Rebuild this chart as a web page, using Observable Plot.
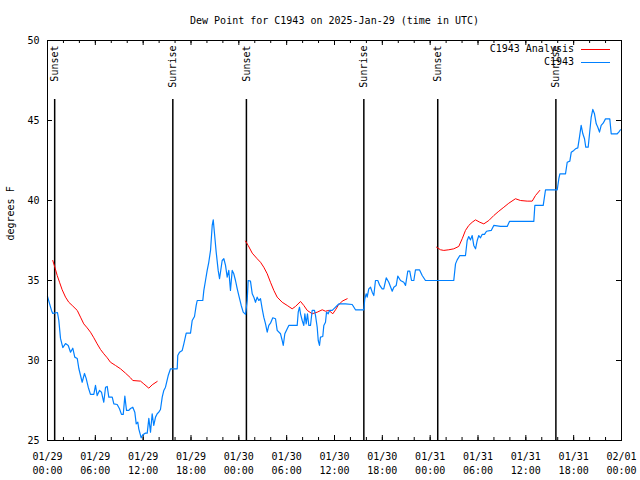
<!DOCTYPE html>
<html><head><meta charset="utf-8">
<script src="https://cdn.jsdelivr.net/npm/d3@7"></script>
<script src="https://cdn.jsdelivr.net/npm/@observablehq/plot@0.6"></script>
<style>
body{margin:0;background:#fff;}
#wrap{position:relative;width:640px;height:480px;}
.legtxt{position:absolute;font:10px "DejaVu Sans Mono",monospace;line-height:12px;color:#000;white-space:pre;text-align:right;}
.legline{position:absolute;height:1px;}
</style></head><body><div id="wrap"></div>
<script>
const title = "Dew Point for C1943 on 2025-Jan-29 (time in UTC)";
const yLabel = "degrees F";
const startTime = "2025-01-29T00:00:00Z";
const endTime = "2025-02-01T00:00:00Z";
const yTicks = [25, 30, 35, 40, 45, 50];
const xMajorTickHours = [0, 6, 12, 18, 24, 30, 36, 42, 48, 54, 60, 66, 72];
const xMinorTickHours = d3.range(0, 73, 2);
const seriesNames = ["C1943 Analysis", "C1943"];
const seriesColors = ["#ff0000", "#0080ff"];

// Observations: [hours since 01/29 00:00 UTC, dew point °F]
const obsSeries = [
[0,34.0],[0.50,33.13],[0.66,32.94],[1.25,33.0],[1.42,32.5],[1.63,31.38],[1.92,30.81],[2.26,31.06],[2.60,30.94],[2.89,30.52],
[3.17,30.77],[3.42,30.21],[3.73,30.13],[3.93,29.5],[4.35,28.64],[4.64,29.19],[4.85,28.88],[5.11,28.33],[5.39,27.88],[5.81,27.88],
[6.02,28.44],[6.23,27.81],[6.52,28.13],[6.77,28.02],[7.06,27.39],[7.28,28.33],[7.49,28.38],[7.69,27.71],[8.12,27.71],[8.32,27.29],
[8.74,27.25],[9.03,26.98],[9.28,26.63],[9.50,26.63],[9.70,27.77],[9.91,26.88],[10.20,26.88],[10.41,27.0],[10.70,27.08],[10.95,26.77],
[11.13,26.04],[11.33,26.14],[11.45,25.73],[11.75,25.17],[11.95,25.36],[12.29,25.46],[12.51,25.46],[12.71,26.38],[12.92,25.52],[13.13,26.67],
[13.33,25.94],[13.55,26.46],[13.76,26.67],[13.96,26.77],[14.17,26.94],[14.39,27.71],[14.59,28.13],[14.80,28.33],[15.14,29.06],[15.43,29.48],
[16.27,29.48],[16.34,30.31],[16.56,30.52],[16.90,30.63],[17.10,31.04],[17.40,31.71],[17.94,31.71],[18.15,32.5],[18.44,32.75],[18.65,33.44],
[18.78,33.75],[19.48,33.75],[19.61,34.38],[19.82,35.0],[20.03,35.63],[20.23,36.14],[20.45,36.88],[20.66,38.44],[20.79,38.79],[20.95,37.92],
[21.16,36.77],[21.41,35.63],[21.58,35.11],[21.70,35.52],[21.91,36.25],[22.12,36.36],[22.33,35.94],[22.54,35.21],[22.74,35.63],[22.95,34.38],
[23.17,35.63],[23.37,35.42],[23.58,35.0],[23.80,34.48],[24.00,34.06],[24.30,33.44],[24.55,33.02],[24.84,32.88],[25.05,33.75],[25.17,35.0],
[25.46,34.96],[25.68,34.17],[25.88,33.96],[26.09,33.64],[26.30,33.96],[26.50,33.75],[26.72,33.86],[26.93,33.23],[27.13,32.71],[27.35,32.29],
[27.56,31.77],[27.76,32.19],[27.97,32.33],[28.26,32.67],[28.60,32.61],[28.81,31.88],[29.23,31.67],[29.44,31.25],[29.57,30.94],[29.77,31.67],
[30.07,31.98],[30.27,32.19],[31.32,32.19],[31.45,33.02],[31.61,33.33],[31.74,32.92],[31.95,32.5],[32.15,32.19],[32.28,32.92],[32.45,32.29],
[32.61,32.92],[32.78,32.19],[32.99,32.19],[33.20,33.13],[33.49,33.13],[33.62,32.81],[33.83,32.08],[33.96,31.25],[34.12,30.94],[34.24,31.46],
[34.53,31.5],[34.66,32.19],[34.87,32.39],[35.00,33.02],[35.21,32.92],[35.37,33.13],[35.71,33.13],[36.04,33.29],[36.34,33.44],[36.54,33.54],
[37.38,33.54],[38.22,33.5],[38.63,33.17],[39.68,33.17],[39.80,33.86],[39.98,34.17],[40.10,33.96],[40.30,34.48],[40.52,34.58],[40.73,34.27],
[40.93,34.06],[41.14,35.0],[41.43,35.0],[41.68,34.69],[41.98,34.48],[42.18,34.48],[42.49,35.17],[42.81,34.89],[43.24,34.33],[43.44,34.58],
[43.74,34.69],[43.94,35.27],[44.28,35.0],[44.69,34.89],[44.91,34.69],[45.19,35.58],[45.44,35.58],[45.66,35.0],[45.95,35.0],[46.16,35.67],
[46.66,35.67],[47.00,35.31],[47.41,35.0],[50.96,35.0],[51.18,36.04],[51.39,36.29],[51.72,36.56],[52.43,36.56],[52.64,37.5],[52.84,37.75],
[53.06,37.54],[53.27,37.81],[53.47,37.19],[53.69,36.98],[53.90,37.5],[54.10,37.81],[54.31,37.67],[54.52,37.88],[54.81,37.88],[55.07,38.08],
[55.66,38.13],[55.98,38.44],[56.82,38.38],[57.66,38.38],[57.95,38.69],[61.00,38.69],[61.13,39.69],[62.18,39.69],[62.47,40.67],[63.94,40.67],
[64.14,41.36],[64.27,41.67],[64.98,41.67],[65.19,42.39],[65.52,42.46],[65.70,43.02],[66.02,43.13],[66.23,43.23],[66.52,43.29],[66.73,43.96],
[66.94,44.69],[67.15,44.17],[67.36,43.86],[67.52,43.33],[67.82,43.33],[67.99,44.17],[68.20,45.21],[68.40,45.69],[68.61,45.42],[68.83,44.79],
[69.03,44.58],[69.24,44.27],[69.45,44.69],[69.70,44.83],[69.99,45.1],[70.53,45.1],[70.71,44.17],[71.46,44.17],[71.66,44.27],[71.87,44.42]
];

// Analysis segments: [hours since 01/29 00:00 UTC, dew point °F]
const analysis1 = [
[0.66,36.25],[0.92,35.83],[1.22,35.31],[1.51,34.89],[1.84,34.42],[2.26,33.96],[2.67,33.64],[3.10,33.44],[3.73,33.13],[4.14,32.71],
[4.55,32.29],[4.98,32.04],[5.39,31.77],[5.81,31.42],[6.23,31.04],[6.65,30.69],[7.06,30.42],[7.49,30.17],[7.90,29.89],[8.53,29.69],
[9.16,29.48],[9.78,29.21],[10.41,28.92],[10.70,28.75],[11.67,28.71],[12.08,28.54],[12.71,28.27],[13.13,28.48],[13.76,28.69]
];
const analysis2 = [
[24.84,37.46],[25.17,37.19],[25.68,36.71],[26.30,36.36],[26.72,36.14],[27.13,35.83],[27.56,35.42],[27.97,34.89],[28.39,34.38],[28.81,33.96],
[29.44,33.64],[30.07,33.44],[30.69,33.23],[31.11,33.38],[31.74,33.69],[32.15,33.44],[32.58,33.13],[33.20,32.92],[33.83,33.02],[34.46,33.17],
[34.87,33.08],[35.29,33.13],[35.79,32.92],[36.13,33.17],[36.46,33.44],[36.97,33.71],[37.59,33.86]
];
const analysis3 = [
[48.80,37.08],[49.30,36.92],[49.71,36.88],[50.34,36.92],[50.96,36.98],[51.59,37.13],[52.02,37.61],[52.43,38.13],[52.84,38.44],[53.27,38.64],
[53.69,38.79],[54.23,38.64],[54.73,38.54],[55.36,38.75],[55.98,39.06],[56.61,39.33],[57.24,39.58],[57.86,39.83],[58.70,40.11],[59.33,40.0],
[60.17,39.96],[60.80,39.96],[61.21,40.31],[61.75,40.63]
];

const sunHours = [0.9, 15.72, 24.95, 39.68, 48.95, 63.77];
const sunLabels = ["Sunset", "Sunrise", "Sunset", "Sunrise", "Sunset", "Sunrise"];

// ---- build tables ----
const t0 = new Date(startTime).getTime();
const toDate = h => new Date(t0 + h * 3600e3);
const obs = obsSeries.map(([h, v]) => ({t: toDate(h), v}));
const ana = [analysis1, analysis2, analysis3].flatMap((seg, i) => seg.map(([h, v]) => ({t: toDate(h), v, seg: i})));
const sun = sunHours.map((h, i) => ({t: toDate(h), label: sunLabels[i]}));
const majorTicks = xMajorTickHours.map(toDate);
const minorTicks = xMinorTickHours.map(toDate);

const W = 640, H = 480, mL = 47, mR = 19, mT = 40, mB = 40;
const pw = W - mL - mR, ph = H - mT - mB;
const FONT = "DejaVu Sans Mono";

const chart = Plot.plot({
  width: W, height: H,
  marginLeft: mL, marginRight: mR, marginTop: mT, marginBottom: mB,
  style: {fontFamily: FONT, fontSize: "10px", background: "#fff", color: "#000"},
  x: {type: "utc", domain: [new Date(startTime), new Date(endTime)]},
  y: {domain: [25, 50]},
  marks: [
    Plot.axisX({ticks: majorTicks, tickSize: 0, tickPadding: 10, lineHeight: 1.35,
      tickFormat: d3.utcFormat("%m/%d\n%H:%M"), label: null, fontSize: 10}),
    Plot.axisY({ticks: yTicks, tickSize: 0, tickPadding: 8, label: null, fontSize: 10}),
    // ticks pointing inward (bottom/top/left/right)
    Plot.tickX(minorTicks, {x: d => d, insetTop: ph - 3, stroke: "#000"}),
    Plot.tickX(minorTicks, {x: d => d, insetBottom: ph - 3, stroke: "#000"}),
    Plot.tickX(majorTicks, {x: d => d, insetTop: ph - 5, stroke: "#000"}),
    Plot.tickX(majorTicks, {x: d => d, insetBottom: ph - 5, stroke: "#000"}),
    Plot.tickY(yTicks, {y: d => d, insetRight: pw - 5, stroke: "#000"}),
    Plot.tickY(yTicks, {y: d => d, insetLeft: pw - 5, stroke: "#000"}),
    // sunrise / sunset
    Plot.ruleX(sun, {x: "t", insetTop: 59, stroke: "#000", strokeWidth: 1.5}),
    Plot.text(sun, {x: "t", text: "label", frameAnchor: "top", rotate: -90, textAnchor: "end",
      lineAnchor: "middle", dy: 5, fontSize: 10, fill: "#000"}),
    // series
    Plot.line(ana, {x: "t", y: "v", z: "seg", stroke: seriesColors[0], strokeWidth: 1}),
    Plot.line(obs, {x: "t", y: "v", stroke: seriesColors[1], strokeWidth: 1.2}),
    Plot.frame({stroke: "#000"}),
    // title and y label
    Plot.text([title], {frameAnchor: "top", dy: -20, lineAnchor: "middle", fontSize: 10, fill: "#000"}),
    Plot.text([yLabel], {frameAnchor: "left", dx: -37, rotate: -90, lineAnchor: "middle", fontSize: 10, fill: "#000"})
  ]
});
const wrap = document.getElementById("wrap");
wrap.appendChild(chart);

// legend (gnuplot key, top-right inside)
const legendRows = [49, 62];
seriesNames.forEach((name, i) => {
  const t = document.createElement("div");
  t.className = "legtxt";
  t.textContent = name;
  t.style.right = (W - 574) + "px";
  t.style.top = (legendRows[i] - 6) + "px";
  wrap.appendChild(t);
  const l = document.createElement("div");
  l.className = "legline";
  l.style.left = "581px";
  l.style.width = "29px";
  l.style.top = legendRows[i] + "px";
  l.style.background = seriesColors[i];
  wrap.appendChild(l);
});
</script></body></html>
